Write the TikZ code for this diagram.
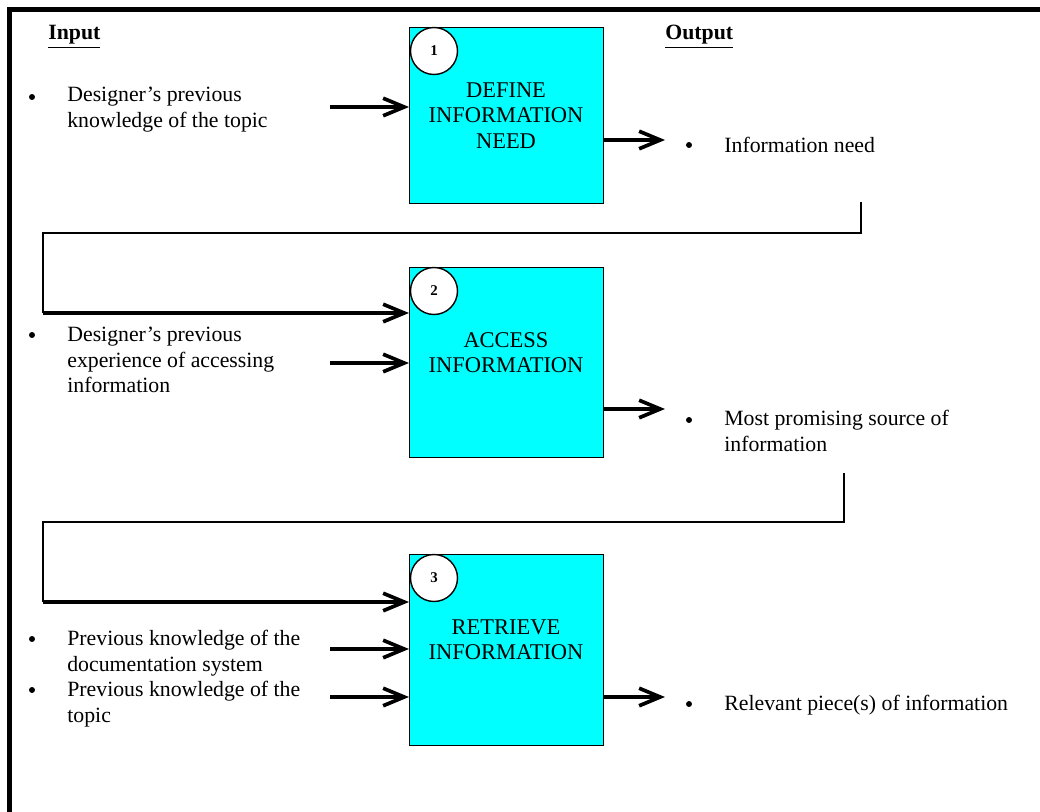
\documentclass[tikz,border=0pt]{standalone}
\usepackage{fontspec}
\setmainfont{Liberation Serif}
\usetikzlibrary{arrows.meta,calc}
\definecolor{boxcyan}{RGB}{0,255,255}

\begin{document}
\begin{tikzpicture}[x=0.02cm, y=-0.02cm,
    every node/.style={font=\fontsize{12.4}{14.5}\selectfont, inner sep=0pt},
    box/.style={draw=black, line width=0.8pt, fill=boxcyan, anchor=north west, minimum width=3.88cm},
    num/.style={circle, draw=black, line width=0.8pt, fill=white, minimum size=0.94cm, font=\fontsize{8.5}{9}\selectfont\bfseries},
    title/.style={align=center, font=\fontsize{12.8}{14.5}\selectfont},
    item/.style={align=left, anchor=north west},
    arr/.style={line width=2.1pt, -{Straight Barb[length=12pt,width=10pt]}},
    link/.style={line width=0.8pt},
    frame/.style={line width=2.6pt}]

    \useasboundingbox (0,0) rectangle (1040,811);

    % outer frame, only top and left edge show
    \draw[frame] (1045,9.5) -- (9.5,9.5) -- (9.5,820);

    \node[anchor=base west] (hin) at (48,40) {\bfseries\underline{Input}};
    \node[anchor=base west] (hout) at (665,40) {\bfseries\underline{Output}};

    % process boxes
    \node[box, minimum height=3.52cm] (b1) at (409,27) {};
    \node[box, minimum height=3.80cm] (b2) at (409,267) {};
    \node[box, minimum height=3.82cm] (b3) at (409,554) {};

    \foreach \n in {1,2,3}
        \node[num] (n\n) at ($(b\n.north west)+(25,24)$) {\n};

    \node[title] (t1) at (506,115.5) {DEFINE\\INFORMATION\\NEED};
    \node[title] (t2) at (506,352.5) {ACCESS\\INFORMATION};
    \node[title] (t3) at (506,639.5) {RETRIEVE\\INFORMATION};

    % inputs
    \node[item] (in1) at (67,86.7) {Designer’s previous\\knowledge of the topic};
    \node[item] (in2) at (67,326.7) {Designer’s previous\\experience of accessing\\information};
    \node[item] (in3) at (67,630) {Previous knowledge of the\\documentation system};
    \node[item] (in4) at (67,681) {Previous knowledge of the\\topic};
    \foreach \y in {97,335,639,690}
        \fill (32,\y) circle (1.7pt);

    \coordinate (i1) at (330,107);
    \coordinate (i2) at (330,363);
    \coordinate (i3) at (330,649);
    \coordinate (i4) at (330,697);
    \draw[arr] (i1) -- (i1 -| b1.west);
    \draw[arr] (i2) -- (i2 -| b2.west);
    \draw[arr] (i3) -- (i3 -| b3.west);
    \draw[arr] (i4) -- (i4 -| b3.west);

    % outputs
    \node[item] (out1) at (724,137) {Information need};
    \node[item] (out2) at (724,410) {Most promising source of\\information};
    \node[item] (out3) at (724,695) {Relevant piece(s) of information};
    \foreach \y in {145,420,704}
        \fill (689,\y) circle (1.7pt);

    \coordinate (o1) at (665,140);
    \coordinate (o2) at (665,409);
    \coordinate (o3) at (665,697);
    \draw[arr] (o1 -| b1.east) -- (o1);
    \draw[arr] (o2 -| b2.east) -- (o2);
    \draw[arr] (o3 -| b3.east) -- (o3);

    % feedback lines into next step
    \coordinate (c1) at (861,202);
    \coordinate (c1l) at (43,233);
    \coordinate (e2) at (43,313);
    \draw[link] (c1) |- (c1l) -- (e2);
    \draw[arr] (e2) -- (e2 -| b2.west);

    \coordinate (c2) at (844,473);
    \coordinate (c2l) at (43,522);
    \coordinate (e3) at (43,602);
    \draw[link] (c2) |- (c2l) -- (e3);
    \draw[arr] (e3) -- (e3 -| b3.west);
\end{tikzpicture}
\end{document}
